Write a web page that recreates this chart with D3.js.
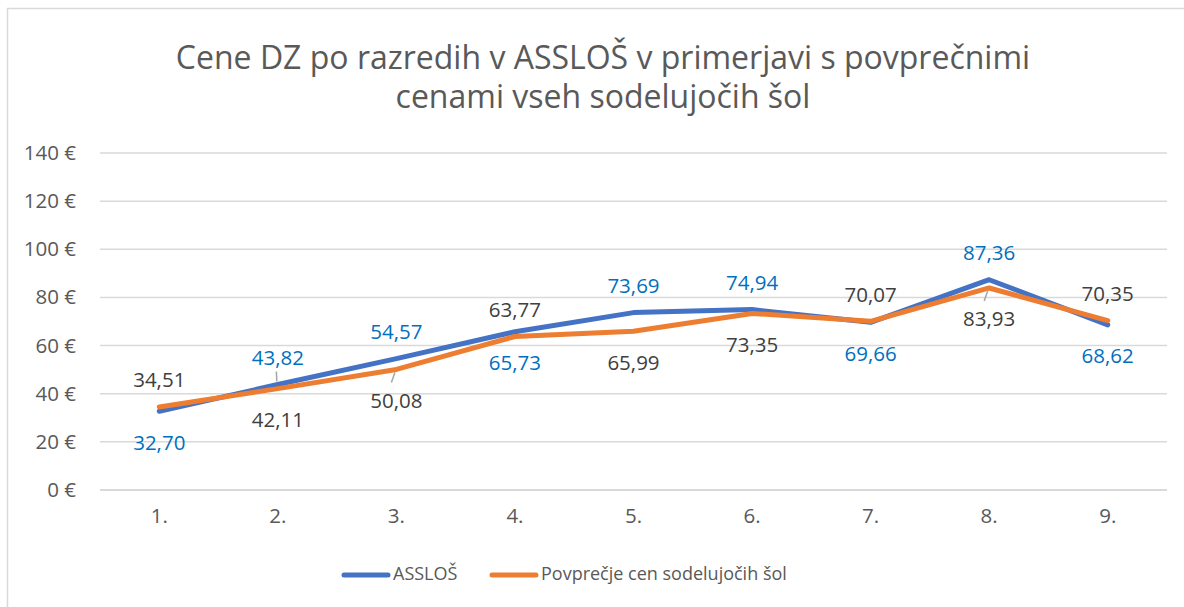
<!DOCTYPE html>
<html>
<head>
<meta charset="utf-8">
<script src="https://cdn.jsdelivr.net/npm/d3@7"></script>
<style>
  html, body { margin: 0; padding: 0; background: #fff; }
  svg { display: block; font-family: "Open Sans", "Noto Sans", sans-serif; }
</style>
</head>
<body>
<svg id="chart" width="1184" height="607"></svg>
<script>
// ---- data ----
const categories = ["1.", "2.", "3.", "4.", "5.", "6.", "7.", "8.", "9."];
const assloValues = [32.70, 43.82, 54.57, 65.73, 73.69, 74.94, 69.66, 87.36, 68.62];
const avgValues   = [34.51, 42.11, 50.08, 63.77, 65.99, 73.35, 70.07, 83.93, 70.35];
const assloLabelSide = ["below", "above", "above", "below", "above", "above", "below", "above", "below"];
const avgLabelSide   = ["above", "below", "below", "above", "below", "below", "above", "below", "above"];
const yTicks = [0, 20, 40, 60, 80, 100, 120, 140];
const seriesNames = ["ASSLOŠ", "Povprečje cen sodelujočih šol"];
const titleLines = ["Cene DZ po razredih v ASSLOŠ v primerjavi s povprečnimi", "cenami vseh sodelujočih šol"];
// labels that were dragged away from their point and carry a leader line: [series, index]
const leaderLabels = [["asslo", 1], ["avg", 2], ["avg", 7]];

// ---- layout ----
const plot = { left: 100, right: 1167, top: 153, bottom: 490 };
const colors = { asslo: "#4472C4", avg: "#ED7D31", grid: "#D9D9D9", text: "#595959", blueLabel: "#0070C0", darkLabel: "#404040", leader: "#A6A6A6" };

const svg = d3.select("#chart");

// chart border (right/bottom edges are outside the picture)
svg.append("rect").attr("x", 7.5).attr("y", 8.5).attr("width", 1300).attr("height", 800)
  .attr("fill", "none").attr("stroke", colors.grid).attr("stroke-width", 1.5);

// title
const title = svg.append("g").attr("fill", colors.text);
titleLines.forEach((t, i) => {
  title.append("text").attr("x", 603).attr("y", 69 + i * 39)
    .attr("text-anchor", "middle").attr("font-size", 32).text(t);
});

const x = d3.scaleBand().domain(categories).range([plot.left, plot.right]);
const y = d3.scaleLinear().domain([0, 140]).range([plot.bottom, plot.top]);
const cx = c => x(c) + x.bandwidth() / 2;

// gridlines
svg.append("g").selectAll("line").data(yTicks).join("line")
  .attr("x1", plot.left).attr("x2", plot.right)
  .attr("y1", d => y(d)).attr("y2", d => y(d))
  .attr("stroke", colors.grid).attr("stroke-width", d => d === 0 ? 2 : 1.5);

// y axis
const yAxis = svg.append("g").attr("transform", `translate(${plot.left - 21},0)`)
  .call(d3.axisLeft(y).tickValues(yTicks).tickSize(0).tickFormat(d => d + " €"));
yAxis.select(".domain").remove();
yAxis.selectAll("text").attr("font-size", 20.5).attr("fill", colors.text)
  .attr("font-family", "'Open Sans', sans-serif").attr("dx", 0);

// x axis
const xAxis = svg.append("g").attr("transform", `translate(0,${plot.bottom + 19})`)
  .call(d3.axisBottom(x).tickSize(0));
xAxis.select(".domain").remove();
xAxis.selectAll("text").attr("font-size", 20.5).attr("fill", colors.text)
  .attr("font-family", "'Open Sans', sans-serif").attr("dy", "0.55em");

// lines
const line = d3.line().x((d, i) => cx(categories[i])).y(d => y(d));
svg.append("path").datum(assloValues).attr("d", line)
  .attr("fill", "none").attr("stroke", colors.asslo).attr("stroke-width", 5)
  .attr("stroke-linejoin", "round").attr("stroke-linecap", "round");
svg.append("path").datum(avgValues).attr("d", line)
  .attr("fill", "none").attr("stroke", colors.avg).attr("stroke-width", 5)
  .attr("stroke-linejoin", "round").attr("stroke-linecap", "round");

// data labels
const fmt = v => v.toFixed(2).replace(".", ",");
const labelDy = side => side === "above" ? -25 : 33;
const seriesData = { asslo: [assloValues, assloLabelSide], avg: [avgValues, avgLabelSide] };

// leader lines
leaderLabels.forEach(([s, i]) => {
  const [vals, sides] = seriesData[s];
  const px = cx(categories[i]), py = y(vals[i]);
  const dir = sides[i] === "above" ? -1 : 1;
  svg.append("line")
    .attr("x1", px + (s === "avg" ? -1.5 : -1)).attr("y1", py + dir * 3)
    .attr("x2", px + (s === "avg" ? -5 : -1.5)).attr("y2", py + dir * 13)
    .attr("stroke", colors.leader).attr("stroke-width", 1.5);
});

function labels(values, sides, color) {
  svg.append("g").selectAll("text").data(values).join("text")
    .attr("x", (d, i) => cx(categories[i]))
    .attr("y", (d, i) => y(d) + labelDy(sides[i]))
    .attr("text-anchor", "middle").attr("dominant-baseline", "middle")
    .attr("font-size", 20.5).attr("fill", color).text(d => fmt(d));
}
labels(assloValues, assloLabelSide, colors.blueLabel);
labels(avgValues, avgLabelSide, colors.darkLabel);

// legend
const legend = svg.append("g").attr("transform", "translate(0,575)");
const legendItems = [
  { name: seriesNames[0], color: colors.asslo, x: 342 },
  { name: seriesNames[1], color: colors.avg, x: 490 }
];
legendItems.forEach(it => {
  legend.append("line").attr("x1", it.x + 2).attr("x2", it.x + 46).attr("y1", 0).attr("y2", 0)
    .attr("stroke", it.color).attr("stroke-width", 5).attr("stroke-linecap", "round");
  legend.append("text").attr("x", it.x + 51).attr("y", 0).attr("dominant-baseline", "middle")
    .attr("font-size", 18).attr("fill", colors.text).text(it.name);
});
</script>
</body>
</html>
